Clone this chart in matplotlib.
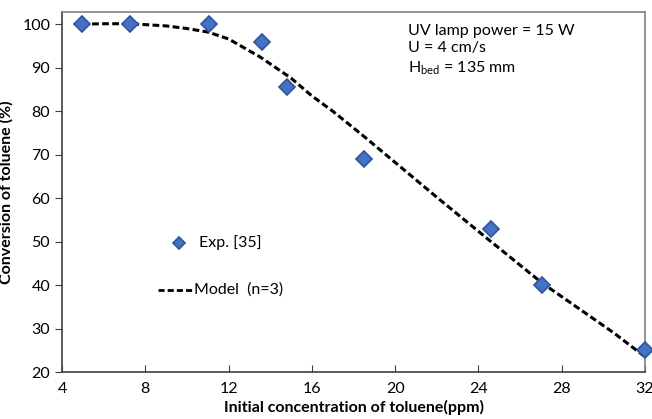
import matplotlib.pyplot as plt #plotting functions
import numpy as np #number functions

plt.rcParams['font.family'] = ['Lato', 'DejaVu Sans'] #calibri-like font

# experimental points
exp_x = [4.96, 7.27, 11.06, 13.6, 14.8, 18.5, 24.6, 27.05, 32.0]
exp_y = [100, 100, 100, 96, 85.5, 69, 53, 40, 25]

# model curve (n=3)
model_x = [4.96, 6.0, 7.3, 9.0, 10.0, 11.0, 12.0, 13.5, 15.0, 16.0, 17.0, 18.5, 20.0, 22.0, 24.6, 27.05, 29.0, 30.5, 32.0]
model_y = [100, 100.1, 100.1, 99.6, 99.0, 98.2, 96.6, 92.5, 87.6, 83.5, 80.0, 74.2, 68.2, 60.2, 50.0, 40.5, 34.0, 29.0, 23.5]

xticks = [4, 8, 12, 16, 20, 24, 28, 32]
yticks = [20, 30, 40, 50, 60, 70, 80, 90, 100]

fig = plt.figure(figsize=(6.52, 4.19), dpi=100)
ax = fig.add_axes([62/652, 47/419, 583/652, 360/419])

ax.plot(model_x, model_y, '--', color='black', lw=2.2, dashes=(2.2, 1.1), zorder=2) #model line
ax.plot(exp_x, exp_y, 'D', ms=8, mfc='#4472c4', mec='#2f5597', mew=1.2, zorder=3, clip_on=False) #measured points

ax.set_xlim(4, 32)
ax.set_ylim(20, 102.8)
ax.set_xticks(xticks)
ax.set_yticks(yticks)
ax.tick_params(axis='x', direction='in', length=5, labelsize=11.5, pad=7, color='#404040')
ax.tick_params(axis='y', direction='out', length=5, labelsize=11.5, color='#404040')
for s in ['top', 'right']:
    ax.spines[s].set_color('#808080')
for s in ['left', 'bottom']:
    ax.spines[s].set_color('#404040')
for s in ax.spines.values():
    s.set_linewidth(1.2)

ax.set_xlabel('Initial concentration of toluene(ppm)', fontsize=11.5, fontweight='bold', labelpad=3)
ax.set_ylabel('Conversion of toluene (%)', fontsize=11.5, fontweight='bold', labelpad=6)

# hand-made legend
ax.plot([9.6], [49.7], 'D', ms=6.5, mfc='#4472c4', mec='#2f5597', mew=1.2)
ax.text(10.6, 49.7, 'Exp. [35]', fontsize=11.5, va='center')
ax.plot([8.6, 10.3], [38.9, 38.9], '--', color='black', lw=2, dashes=(2.2, 1.1))
ax.text(10.35, 38.9, 'Model  (n=3)', fontsize=11.5, va='center')

ax.text(20.6, 100, 'UV lamp power = 15 W\nU = 4 cm/s\nH$_{\\mathregular{bed}}$ = 135 mm', fontsize=11.5, va='top', linespacing=1.3)

fig.savefig('out.png', dpi=100)
